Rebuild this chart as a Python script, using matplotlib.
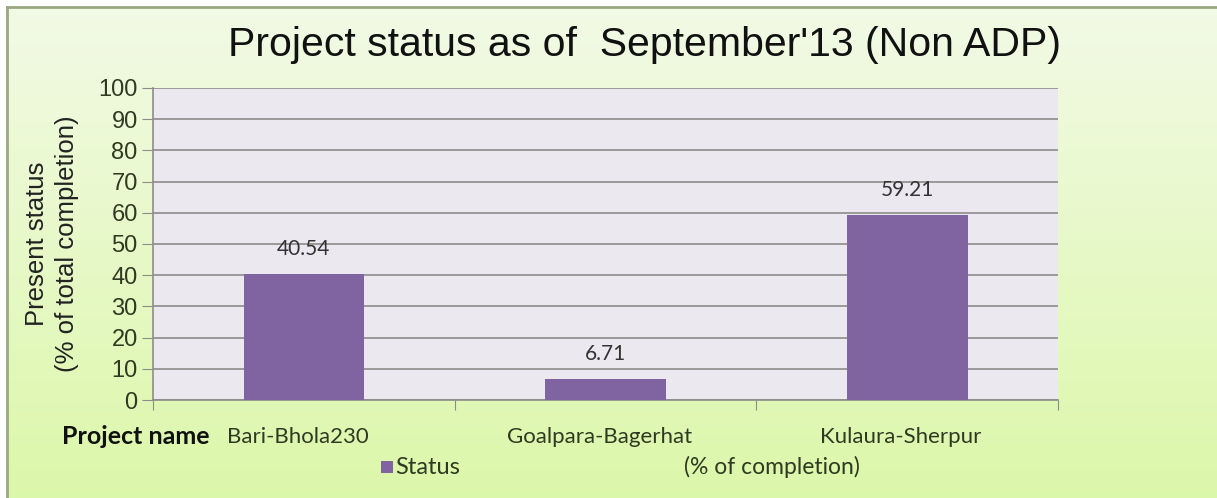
"""Project status bar chart (Non ADP), September'13."""

import numpy as np
import matplotlib
matplotlib.use("Agg")
import matplotlib.pyplot as plt
from matplotlib.patches import Rectangle

projects = ["Bari-Bhola230", "Goalpara-Bagerhat", "Kulaura-Sherpur"]
status = [40.54, 6.71, 59.21]
value_labels = ["40.54", "6.71", "59.21"]
y_ticks = [0, 10, 20, 30, 40, 50, 60, 70, 80, 90, 100]

bar_color = "#8064a2"
text_color = "#2f3a22"
W, H = 1217, 498

fig = plt.figure(figsize=(W / 100, H / 100), dpi=100)
fig.patch.set_facecolor("white")

# green gradient backdrop, thin border only on top/left
bg = fig.add_axes([7 / W, -0.02, 1.02, 1.02 - 7 / H], zorder=-5)
top = np.array([0.95, 0.98, 0.90])
bottom = np.array([0.86, 0.97, 0.66])
grad = np.linspace(0, 1, 256)[:, None, None] * (bottom - top) + top
bg.imshow(np.repeat(grad, 4, axis=1), aspect="auto", extent=[0, 1, 0, 1])
bg.set_axis_off()
fig.add_artist(plt.Line2D([7 / W, 1.01], [1 - 7 / H, 1 - 7 / H],
                          color="#9aa882", lw=2, transform=fig.transFigure))
fig.add_artist(plt.Line2D([7 / W, 7 / W], [-0.01, 1 - 7 / H],
                          color="#9aa882", lw=2, transform=fig.transFigure))

ax = fig.add_axes([153 / W, 1 - 400 / H, 905 / W, 312 / H])
ax.set_facecolor("#ece8f0")

x = np.arange(len(projects))
ax.bar(x, status, width=0.4, color=bar_color, zorder=3)
for xi, v, lab in zip(x, status, value_labels):
    ax.text(xi, v + 8, lab, ha="center", va="center", fontsize=15,
            family="Lato", color="#333333", zorder=4)

ax.set_xlim(-0.5, 2.5)
ax.set_ylim(0, 100)
ax.set_yticks(y_ticks)
ax.set_yticklabels([str(t) for t in y_ticks], fontsize=17,
                   family="Liberation Sans", color=text_color)
ax.grid(True, axis="y", color="#8c8c8c", lw=1.2, zorder=1)
ax.tick_params(axis="y", length=8, color="#8c8c8c", pad=3)

# ticks on category boundaries, names drawn separately below
ax.set_xticks([-0.5, 0.5, 1.5, 2.5])
ax.set_xticklabels([])
ax.tick_params(axis="x", length=7, color="#8c8c8c")
for xi, name in zip(x, projects):
    ax.text(xi - 0.02, -12, name, ha="center", va="center", fontsize=16,
            family="Lato", color=text_color)

for side in ["top", "right"]:
    ax.spines[side].set_visible(False)
for side in ["left", "bottom"]:
    ax.spines[side].set_color("#8c8c8c")
    ax.spines[side].set_linewidth(1.2)

ax.set_ylabel("Present status\n(% of total completion)", fontsize=18.5,
              family="Liberation Sans", color="#222222", labelpad=14,
              linespacing=1.3)

fig.text(645 / W, 1 - 45 / H, "Project status as of  September'13 (Non ADP)",
         ha="center", va="center", fontsize=29.5, family="Liberation Sans",
         color="#111111")

fig.text(62 / W, 1 - 436 / H, "Project name", ha="left", va="center",
         fontsize=18, family="Lato", fontweight="bold", color="#111111")

# legend-like footer
fig.add_artist(Rectangle((381 / W, 1 - 473 / H), 12 / W, 12 / H,
                         facecolor=bar_color, transform=fig.transFigure))
fig.text(395 / W, 1 - 467 / H, "Status", ha="left", va="center",
         fontsize=17, family="Lato", color=text_color)
fig.text(772 / W, 1 - 467 / H, "(% of completion)", ha="center",
         va="center", fontsize=16.5, family="Lato", color=text_color)

fig.savefig("out.png", dpi=100)
